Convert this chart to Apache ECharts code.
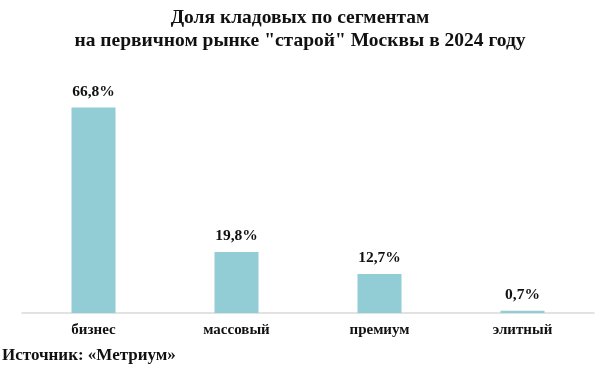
<!DOCTYPE html>
<html>
<head>
<meta charset="utf-8">
<script src="https://cdn.jsdelivr.net/npm/echarts@6/dist/echarts.min.js"></script>
<style>
  html, body { margin: 0; padding: 0; background: #fff; }
  #chart { width: 600px; height: 376px; }
</style>
</head>
<body>
<div id="chart"></div>
<script>
const categories = ['бизнес', 'массовый', 'премиум', 'элитный']
const shares = [66.8, 19.8, 12.7, 0.7]

const font = '"Liberation Serif", "Times New Roman", serif'

const chart = echarts.init(document.getElementById('chart'), null, { renderer: 'canvas' })

chart.setOption({
  backgroundColor: '#ffffff',
  animation: false,
  title: {
    text: 'Доля кладовых по сегментам\nна первичном рынке "старой" Москвы в 2024 году',
    left: 'center',
    top: 1,
    textStyle: {
      fontFamily: font,
      fontWeight: 'bold',
      fontSize: 19.5,
      lineHeight: 23,
      color: '#111',
    },
  },
  graphic: [
    {
      type: 'text',
      left: 2,
      top: 347,
      style: {
        text: 'Источник: «Метриум»',
        font: 'bold 17px ' + font,
        fill: '#111',
      },
    },
  ],
  grid: {
    left: 22,
    right: 6,
    top: 67,
    bottom: 63,
    containLabel: false,
  },
  xAxis: {
    type: 'category',
    data: categories,
    axisTick: { show: false },
    axisLine: { lineStyle: { color: '#d9d9d9', width: 1.5 } },
    axisLabel: {
      margin: 10,
      fontFamily: font,
      fontWeight: 'bold',
      fontSize: 15,
      color: '#111',
    },
  },
  yAxis: {
    type: 'value',
    min: 0,
    max: 80,
    show: false,
    splitLine: { show: false },
  },
  series: [
    {
      type: 'bar',
      data: shares,
      barWidth: 44,
      itemStyle: { color: '#92cdd5' },
      label: {
        show: true,
        position: 'top',
        distance: 8,
        formatter: p => String(p.value).replace('.', ',') + '%',
        fontFamily: font,
        fontWeight: 'bold',
        fontSize: 15.5,
        color: '#111',
      },
    },
  ],
})
</script>
</body>
</html>
